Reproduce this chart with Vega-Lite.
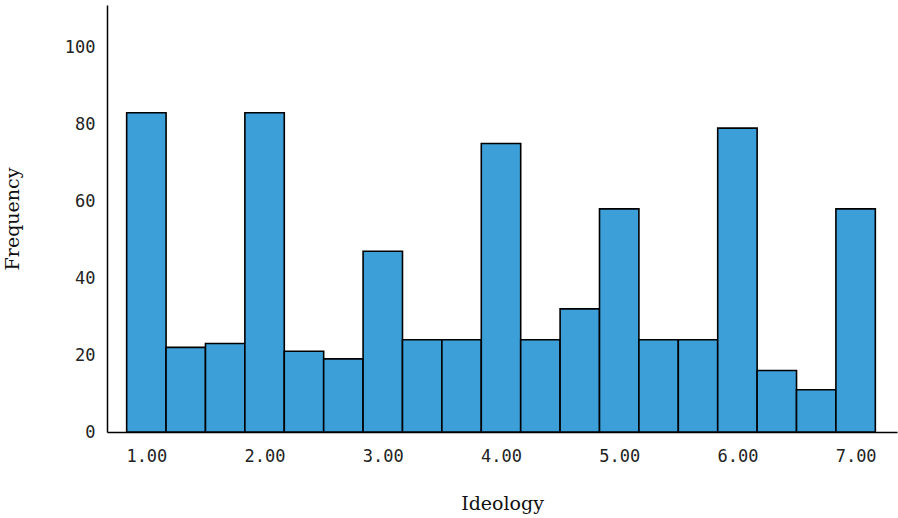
{
  "$schema": "https://vega.github.io/schema/vega-lite/v6.json",
  "autosize": {"type": "none"},
  "padding": {"left": 107, "top": 5, "right": 1, "bottom": 86},
  "width": 790,
  "height": 427,
  "config": {"view": {"stroke": null}, "background": "white"},
  "data": {"values": [
    {"lo": 0.8333, "hi": 1.1667, "count": 83},
    {"lo": 1.1667, "hi": 1.5, "count": 22},
    {"lo": 1.5, "hi": 1.8333, "count": 23},
    {"lo": 1.8333, "hi": 2.1667, "count": 83},
    {"lo": 2.1667, "hi": 2.5, "count": 21},
    {"lo": 2.5, "hi": 2.8333, "count": 19},
    {"lo": 2.8333, "hi": 3.1667, "count": 47},
    {"lo": 3.1667, "hi": 3.5, "count": 24},
    {"lo": 3.5, "hi": 3.8333, "count": 24},
    {"lo": 3.8333, "hi": 4.1667, "count": 75},
    {"lo": 4.1667, "hi": 4.5, "count": 24},
    {"lo": 4.5, "hi": 4.8333, "count": 32},
    {"lo": 4.8333, "hi": 5.1667, "count": 58},
    {"lo": 5.1667, "hi": 5.5, "count": 24},
    {"lo": 5.5, "hi": 5.8333, "count": 24},
    {"lo": 5.8333, "hi": 6.1667, "count": 79},
    {"lo": 6.1667, "hi": 6.5, "count": 16},
    {"lo": 6.5, "hi": 6.8333, "count": 11},
    {"lo": 6.8333, "hi": 7.1667, "count": 58}
  ]},
  "mark": {"type": "bar", "fill": "#3d9fd8", "stroke": "#000000", "strokeWidth": 1.6, "orient": "vertical"},
  "encoding": {
    "x": {
      "field": "lo", "type": "quantitative",
      "scale": {"domain": [0.667, 7.35], "nice": false, "zero": false, "padding": 0},
      "axis": {
        "title": "Ideology", "values": [1, 2, 3, 4, 5, 6, 7], "format": ".2f",
        "grid": false, "ticks": false, "domainColor": "#000000", "domainWidth": 1.5,
        "labelFont": "DejaVu Sans Mono", "labelFontSize": 17, "labelColor": "#222222",
        "labelPadding": 16,
        "titleFont": "DejaVu Serif", "titleFontSize": 19, "titleFontWeight": "normal", "titleColor": "#111111",
        "titlePadding": 30
      }
    },
    "x2": {"field": "hi"},
    "y": {
      "field": "count", "type": "quantitative",
      "scale": {"domain": [0, 111], "nice": false, "padding": 0},
      "axis": {
        "title": "Frequency", "values": [0, 20, 40, 60, 80, 100],
        "grid": false, "ticks": false, "domainColor": "#000000", "domainWidth": 1.5,
        "labelFont": "DejaVu Sans Mono", "labelFontSize": 17, "labelColor": "#222222",
        "labelPadding": 12,
        "titleFont": "DejaVu Serif", "titleFontSize": 19, "titleFontWeight": "normal", "titleColor": "#111111",
        "titlePadding": 42
      }
    },
    "y2": {"datum": 0}
  }
}
